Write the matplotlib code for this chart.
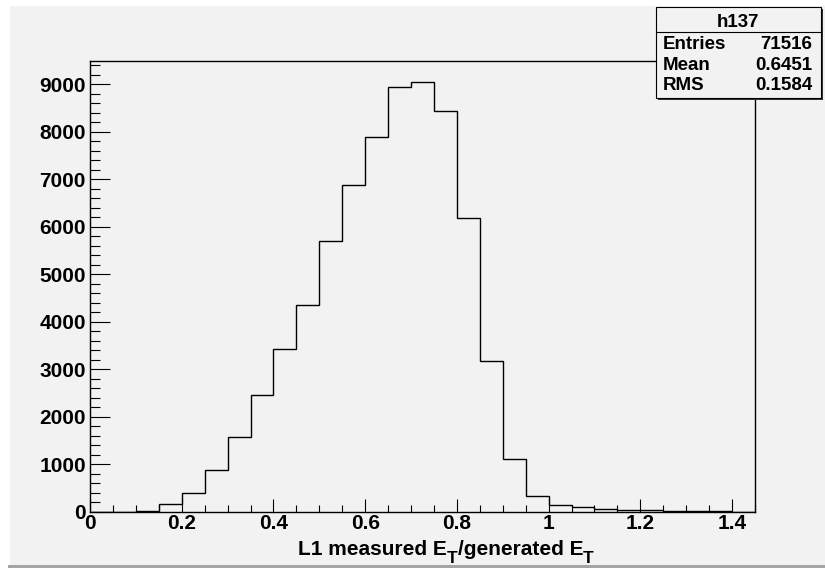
import numpy as np
import matplotlib
matplotlib.use("Agg")
import matplotlib.pyplot as plt
from matplotlib.patches import Rectangle
from matplotlib.ticker import MultipleLocator

plt.rcParams["font.family"] = ["Liberation Sans", "DejaVu Sans"]
plt.rcParams["font.weight"] = "bold"

# histogram h137, 29 bins of width 0.05 from 0 to 1.45
bin_edges = np.linspace(0.0, 1.45, 30)
counts = [0, 2, 20, 155, 400, 884, 1573, 2450, 3419, 4352,
          5699, 6884, 7888, 8935, 9046, 8442, 6189, 3173, 1116, 330,
          141, 92, 64, 43, 29, 20, 10, 5, 0]

stats_title = "h137"
stats_names = ["Entries", "Mean", "RMS"]
stats_values = ["71516", "0.6451", "0.1584"]

# x title pieces: (text, is_subscript)
xlabel_parts = [("L1 measured E", False), ("T", True),
                ("/generated E", False), ("T", True)]

W, H = 825, 569
bg = "#f2f2f2"

fig = plt.figure(figsize=(W / 100, H / 100), dpi=100, facecolor=bg)

def fx(px):
    return px / W

def fy(py):
    return 1 - py / H

# ROOT canvas borders
fig.patches.append(Rectangle((0, fy(6)), 1, 6 / H, transform=fig.transFigure,
                             facecolor="white", edgecolor="none", zorder=0))
fig.patches.append(Rectangle((0, 0), fx(10), 1, transform=fig.transFigure,
                             facecolor="white", edgecolor="none", zorder=0))
fig.patches.append(Rectangle((fx(8), fy(568)), 1, 3 / H, transform=fig.transFigure,
                             facecolor="#a5a5a5", edgecolor="none", zorder=0))
fig.patches.append(Rectangle((0, 0), 1, fy(568), transform=fig.transFigure,
                             facecolor="white", edgecolor="none", zorder=0))

ax = fig.add_axes([fx(90), fy(511.7), fx(755) - fx(90), fy(60.5) - fy(511.7)])
ax.set_facecolor(bg)
ax.stairs(counts, bin_edges, color="black", linewidth=1.0)

ax.set_xlim(0, 1.45)
ax.set_ylim(0, 9500)
ax.xaxis.set_minor_locator(MultipleLocator(0.05))
ax.yaxis.set_minor_locator(MultipleLocator(200))
ax.set_xticks([0, 0.2, 0.4, 0.6, 0.8, 1.0, 1.2, 1.4])
ax.set_xticklabels(["0", "0.2", "0.4", "0.6", "0.8", "1", "1.2", "1.4"])
ax.set_yticks(range(0, 10000, 1000))
ax.set_yticklabels([str(v) for v in range(0, 10000, 1000)])

for s in ax.spines.values():
    s.set_linewidth(1.0)
    s.set_color("black")

ax.tick_params(axis="x", which="major", direction="in", length=9.5, width=0.8,
               labelsize=15, pad=2)
ax.tick_params(axis="x", which="minor", direction="in", length=5, width=0.8)
ax.tick_params(axis="y", which="major", direction="in", length=14.4, width=0.8,
               labelsize=15, pad=3)
ax.tick_params(axis="y", which="minor", direction="in", length=7.2, width=0.8)
for lab in ax.get_xticklabels() + ax.get_yticklabels():
    lab.set_fontweight("bold")

# x title built from pieces so the subscripts look like ROOT's
renderer = fig.canvas.get_renderer()
xpos = 298
for txt, sub in xlabel_parts:
    size = 12.5 if sub else 15
    base = 563 if sub else 555
    t = fig.text(fx(xpos), fy(base), txt, fontsize=size, fontweight="bold",
                 ha="left", va="baseline")
    xpos += t.get_window_extent(renderer).width

# stats box
bx0, by0, bx1, by1 = 656, 7.3, 820.7, 97.7
fig.patches.append(Rectangle((fx(bx0 + 2), fy(by1 + 2)), fx(bx1) - fx(bx0),
                             fy(by0) - fy(by1), transform=fig.transFigure,
                             facecolor="#333333", edgecolor="none", zorder=5))
fig.patches.append(Rectangle((fx(bx0), fy(by1)), fx(bx1) - fx(bx0),
                             fy(by0) - fy(by1), transform=fig.transFigure,
                             facecolor=bg, edgecolor="black", linewidth=0.8,
                             zorder=6))
fig.lines.append(plt.Line2D([fx(bx0), fx(bx1)], [fy(31.7), fy(31.7)],
                            transform=fig.transFigure, color="black",
                            linewidth=0.8, zorder=7))
fig.text(fx((bx0 + bx1) / 2), fy(27.3), stats_title, fontsize=13.5,
         fontweight="bold", ha="center", va="baseline", zorder=8)
for i, (name, val) in enumerate(zip(stats_names, stats_values)):
    yb = [49, 70, 90][i]
    fig.text(fx(663), fy(yb), name, fontsize=13.5, fontweight="bold",
             ha="left", va="baseline", zorder=8)
    fig.text(fx(812), fy(yb), val, fontsize=13.5, fontweight="bold",
             ha="right", va="baseline", zorder=8)

fig.savefig("out.png", dpi=100, facecolor=bg)
